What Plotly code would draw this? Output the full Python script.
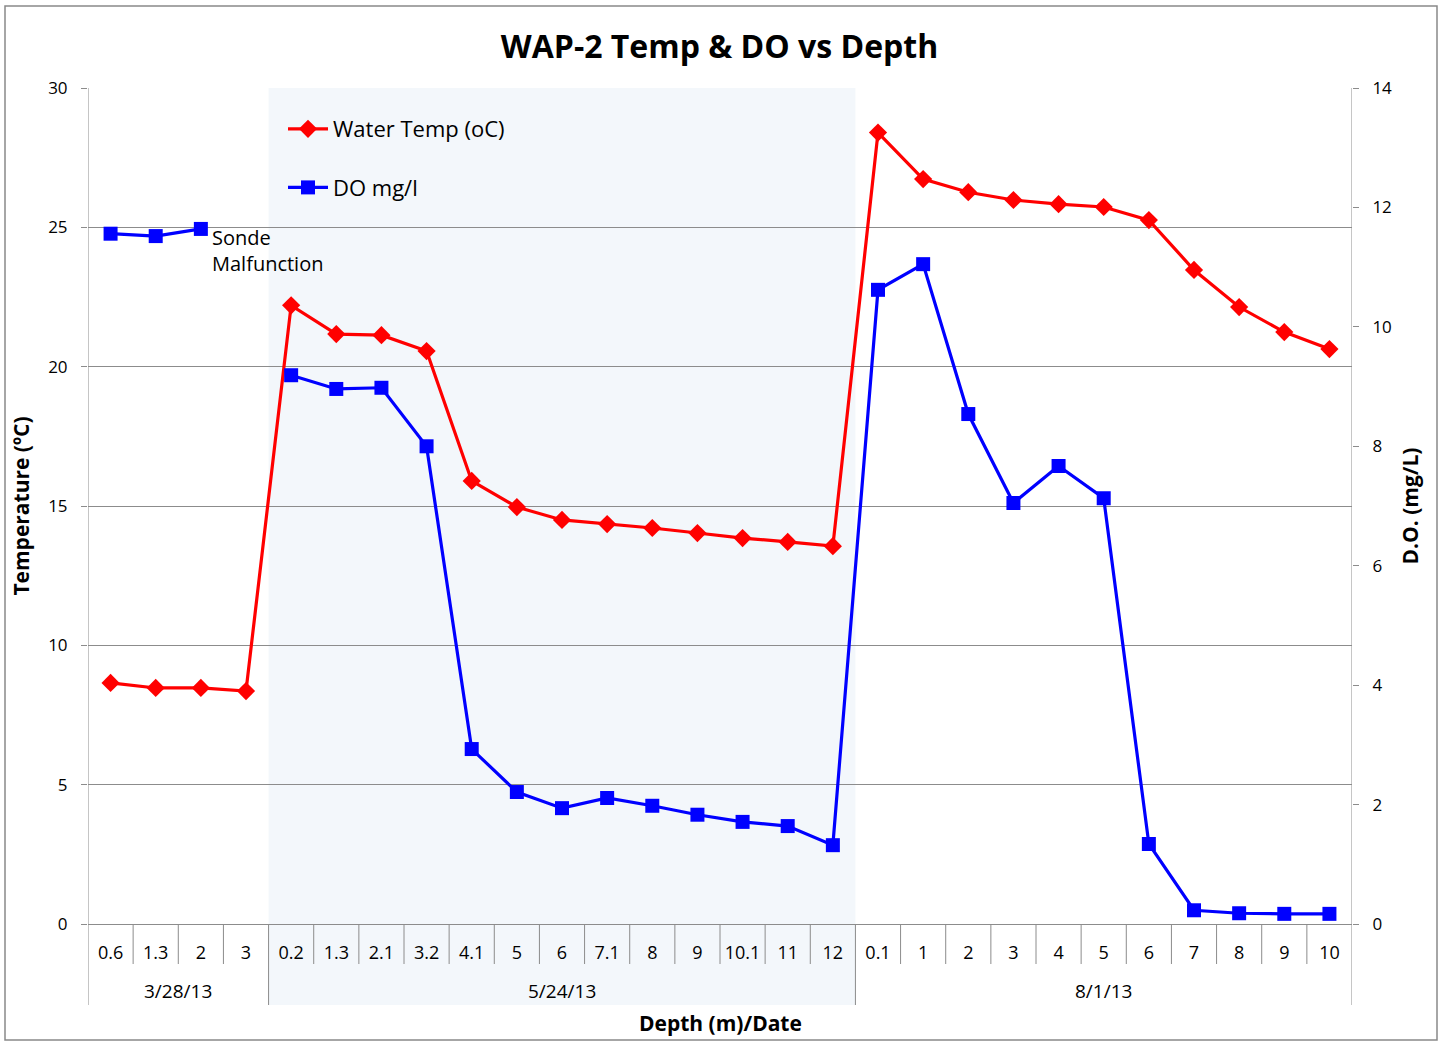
import plotly.graph_objects as go

# ---- data ----
dates = ["3/28/13", "5/24/13", "8/1/13"]
depths_0328 = ["0.6", "1.3", "2", "3"]
depths_0524 = ["0.2", "1.3", "2.1", "3.2", "4.1", "5", "6", "7.1", "8", "9", "10.1", "11", "12"]
depths_0801 = ["0.1", "1", "2", "3", "4", "5", "6", "7", "8", "9", "10"]

temp_0328 = [8.65, 8.47, 8.47, 8.36]
temp_0524 = [22.2, 21.17, 21.13, 20.56, 15.9, 14.96, 14.5, 14.35, 14.21, 14.03, 13.85, 13.71, 13.56]
temp_0801 = [28.4, 26.73, 26.26, 25.98, 25.83, 25.73, 25.26, 23.47, 22.14, 21.24, 20.63]

do_0328 = [11.56, 11.52, 11.64, None]
do_0524 = [9.19, 8.96, 8.98, 8.0, 2.93, 2.21, 1.94, 2.11, 1.98, 1.83, 1.71, 1.64, 1.32]
do_0801 = [10.62, 11.05, 8.54, 7.05, 7.67, 7.13, 1.34, 0.23, 0.18, 0.17, 0.17]

groups = [depths_0328, depths_0524, depths_0801]
depth_labels = depths_0328 + depths_0524 + depths_0801
temps = temp_0328 + temp_0524 + temp_0801
dos = do_0328 + do_0524 + do_0801
xs = list(range(len(depth_labels)))

FONT = "'Open Sans', sans-serif"
W, H = 1439, 1041
ML, MR, MT, MB = 88, 87, 88, 117
PW, PH = W - ML - MR, H - MT - MB

def py(pix):  # pixel y -> paper y
    return (H - MB - pix) / PH

def px(pix):
    return (pix - ML) / PW

fig = go.Figure()
fig.add_trace(go.Scatter(
    x=xs, y=temps, name="Water Temp (oC)", mode="lines+markers",
    line=dict(color="#FF0000", width=3.2),
    marker=dict(symbol="diamond", size=14, color="#FF0000"),
    legendgroup="t", yaxis="y"))
fig.add_trace(go.Scatter(
    x=xs, y=dos, name="DO mg/l", mode="lines+markers",
    line=dict(color="#0000FF", width=3.2),
    marker=dict(symbol="square", size=14, color="#0000FF"),
    legendgroup="d", yaxis="y2", connectgaps=False))

shapes = []
annotations = []
gray = "#8c8c8c"

# group boundaries
bounds = [0]
for g in groups:
    bounds.append(bounds[-1] + len(g))
# shaded middle group
shapes.append(dict(type="rect", xref="x", yref="paper",
                   x0=bounds[1] - 0.5, x1=bounds[2] - 0.5, y0=py(1005), y1=1,
                   fillcolor="#F3F7FB", line=dict(width=0), layer="below"))
# depth dividers
for i in range(1, len(depth_labels)):
    bottom = py(1005) if i in bounds else py(964)
    shapes.append(dict(type="line", xref="x", yref="paper",
                       x0=i - 0.5, x1=i - 0.5, y0=0, y1=bottom,
                       line=dict(color=gray, width=1)))
# outer axis lines extended
for xv in (-0.5, len(depth_labels) - 0.5):
    shapes.append(dict(type="line", xref="x", yref="paper",
                       x0=xv, x1=xv, y0=py(1005), y1=1,
                       line=dict(color=gray, width=1)))
# chart border
shapes.append(dict(type="rect", xref="paper", yref="paper",
                   x0=px(5), x1=px(1437), y0=py(1040), y1=py(6),
                   line=dict(color="#898989", width=1.5), fillcolor="rgba(0,0,0,0)"))

# group labels
for gi, g in enumerate(groups):
    center = (bounds[gi] + bounds[gi + 1] - 1) / 2
    annotations.append(dict(x=center, y=py(991), xref="x", yref="paper",
                            text=dates[gi], showarrow=False,
                            font=dict(size=19, family=FONT, color="black"),
                            yanchor="middle"))
annotations.append(dict(x=0.5, y=py(1023), xref="paper", yref="paper",
                        text="<b>Depth (m)/Date</b>", showarrow=False,
                        font=dict(size=21, family=FONT, color="black"),
                        yanchor="middle"))
annotations.append(dict(x=2.2, y=dos[2] + 0.12, xref="x", yref="y2",
                        text="Sonde<br>Malfunction", showarrow=False,
                        xanchor="left", yanchor="top", align="left",
                        font=dict(size=20, family=FONT, color="black")))

fig.update_layout(
    width=W, height=H,
    margin=dict(l=ML, r=MR, t=MT, b=MB, autoexpand=False),
    paper_bgcolor="white", plot_bgcolor="rgba(0,0,0,0)",
    font=dict(family=FONT, color="black", size=17),
    title=dict(text="<b>WAP-2 Temp &amp; DO vs Depth</b>", x=0.5, xanchor="center",
               y=1 - 47 / H, yanchor="middle", font=dict(size=32, family=FONT)),
    xaxis=dict(range=[-0.5, len(depth_labels) - 0.5], tickvals=xs, ticktext=depth_labels,
               showgrid=False, zeroline=False, showline=True, linecolor=gray, linewidth=1,
               ticks="", ticklabelstandoff=12, tickfont=dict(size=18)),
    yaxis=dict(range=[0, 30], dtick=5, showgrid=True, gridcolor=gray, gridwidth=1,
               zeroline=False, showline=False, ticks="outside", ticklen=6, tickcolor=gray,
               tickfont=dict(size=17), ticklabelstandoff=10,
               title=dict(text="<b>Temperature (ºC)</b>", font=dict(size=21), standoff=12)),
    yaxis2=dict(range=[0, 14], dtick=2, overlaying="y", side="right", showgrid=False,
                zeroline=False, showline=False, ticks="outside", ticklen=6, tickcolor=gray,
                tickfont=dict(size=17), ticklabelstandoff=10,
                title=dict(text="<b>D.O. (mg/L)</b>", font=dict(size=21), standoff=12)),
    legend=dict(x=px(283), y=py(108), xanchor="left", yanchor="top",
                bgcolor="rgba(0,0,0,0)", font=dict(size=22, family=FONT),
                traceorder="grouped", tracegroupgap=27, itemwidth=40),
    shapes=shapes, annotations=annotations,
    showlegend=True,
)

fig.write_html("out.html", post_script="document.body.style.margin='0';",
               config={"displayModeBar": False})
